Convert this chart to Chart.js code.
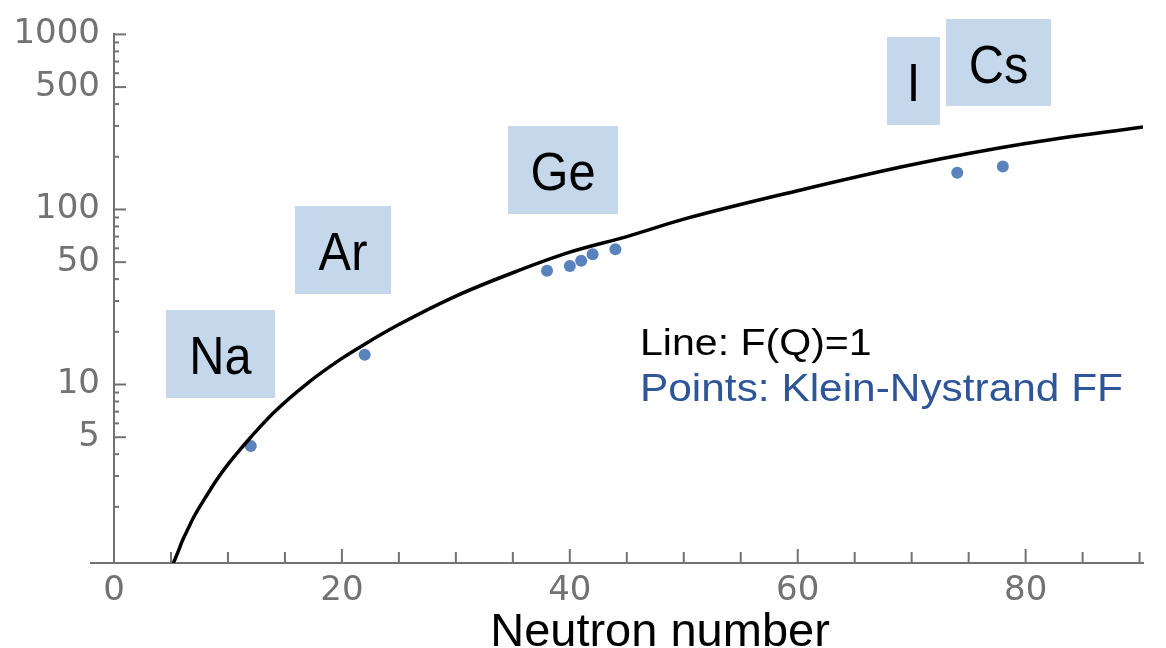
<!DOCTYPE html>
<html>
<head>
<meta charset="utf-8">
<title>Neutron number</title>
<script src="https://cdn.jsdelivr.net/npm/chart.js@4.4.1/dist/chart.umd.min.js"></script>
<style>
  body { margin: 0; background: #ffffff; }
  #grafico { display: block; }
</style>
</head>
<body>
<canvas id="grafico" width="1166" height="648"></canvas>
<script>
//*************  Data  **************************************/

// line F(Q)=1
const curveN     = [5.2, 5.6, 6, 6.5, 7, 8, 9, 10, 11, 12, 14, 17, 20, 22, 25, 30, 35, 40, 45, 50, 60, 70, 80, 90.3]
const curveValue = [0.95, 1.1, 1.28, 1.5, 1.75, 2.25, 2.85, 3.5, 4.2, 5.0, 6.9, 10.2, 14.1, 17, 22, 32, 43.5, 57, 70, 88, 128, 180, 238, 296]

// points: Klein-Nystrand form factor
const pointsN     = [12, 22, 38, 40, 41, 42, 44, 74, 78]
const pointsValue = [4.45, 14.8, 44.7, 47.6, 50.9, 55.5, 59.2, 162, 176]

// element labels
const elements = ["Na", "Ar", "Ge", "I", "Cs"]

// tick labels
const xTicks = [0, 20, 40, 60, 80]
const yTicks = [5, 10, 50, 100, 500, 1000]

// label boxes (pixels: left, top, width, height), same order as elements
const boxes = [
    [166, 310, 109, 88],
    [295, 206, 96, 88],
    [508, 126, 110, 88],
    [887, 37, 53, 88],
    [946, 19, 105, 87]
]

const axisColor = "#727272"
const tickFont = { family: "DejaVu Sans", size: 34 }


// text with a horizontal stretch (the original texts are a bit squeezed / widened)
function stretchedText(ctx, txt, x, y, font, color, sx, align){
    ctx.save()
    ctx.font = font
    ctx.fillStyle = color
    ctx.textAlign = align
    ctx.textBaseline = "alphabetic"
    ctx.translate(x, y)
    ctx.scale(sx, 1)
    ctx.fillText(txt, 0, 0)
    ctx.restore()
}


//*************  Extra drawing: inward ticks, label boxes, texts  ****************/
const decoration = {
    id: "decoration",
    afterDraw(chart){
        const ctx = chart.ctx
        const xs = chart.scales.x
        const ys = chart.scales.y
        const area = chart.chartArea

        ctx.save()
        ctx.strokeStyle = axisColor
        ctx.lineWidth = 2

        // small piece of x axis left of zero
        ctx.beginPath()
        ctx.moveTo(area.left - 24, area.bottom)
        ctx.lineTo(area.left, area.bottom)
        ctx.stroke()

        // x ticks, pointing up
        for(let v = 5; v <= xs.max; v += 5){
            let px = xs.getPixelForValue(v)
            let len = v % 20 === 0 ? 14 : 11
            ctx.beginPath()
            ctx.moveTo(px, area.bottom)
            ctx.lineTo(px, area.bottom - len)
            ctx.stroke()
        }

        // y ticks, pointing right (long at 5, 10, 50, 100...)
        for(let d = 1; d <= 1000; d *= 10){
            for(let m = 1; m <= 9; m++){
                let v = m * d
                if(v === 1) continue
                if(v < ys.min || v > ys.max) continue
                let py = ys.getPixelForValue(v)
                let len = (m === 1 || m === 5) ? 12 : 5
                ctx.beginPath()
                ctx.moveTo(area.left, py)
                ctx.lineTo(area.left + len, py)
                ctx.stroke()
            }
        }
        ctx.restore()

        // element boxes
        for(let i = 0; i < elements.length; i++){
            let b = boxes[i]
            ctx.fillStyle = "#c5d8eb"
            ctx.fillRect(b[0], b[1], b[2], b[3])
            stretchedText(ctx, elements[i], b[0] + b[2] / 2, b[1] + b[3] / 2 + 20,
                '53px "Liberation Sans"', "#000000", 0.92, "center")
        }

        // legend texts
        stretchedText(ctx, "Line: F(Q)=1", 640, 355, '37px "Liberation Sans"', "#000000", 1.11, "left")
        stretchedText(ctx, "Points: Klein-Nystrand FF", 640, 401, '39px "Liberation Sans"', "#2e5597", 1.087, "left")

        // axis title
        stretchedText(ctx, "Neutron number", 660, 646, '47px "Liberation Sans"', "#000000", 1, "center")
    }
}


//*************  Chart  ****************/
const curveData = curveN.map((n, i) => ({ x: n, y: curveValue[i] }))
const pointsData = pointsN.map((n, i) => ({ x: n, y: pointsValue[i] }))

new Chart(document.getElementById("grafico"), {
    type: "scatter",
    data: {
        datasets: [
            {
                label: "F(Q)=1",
                data: curveData,
                showLine: true,
                borderColor: "#000000",
                borderWidth: 3.5,
                pointRadius: 0,
                cubicInterpolationMode: "monotone",
                fill: false
            },
            {
                label: "Klein-Nystrand FF",
                data: pointsData,
                pointRadius: 6,
                pointBackgroundColor: "#5a82bd",
                pointBorderWidth: 0,
                borderColor: "#5a82bd"
            }
        ]
    },
    options: {
        responsive: false,
        animation: false,
        layout: { padding: { top: 28, right: 23, left: 0, bottom: 0 } },
        plugins: {
            legend: { display: false },
            tooltip: { enabled: false }
        },
        scales: {
            x: {
                type: "linear",
                min: 0,
                max: 90.3,
                afterBuildTicks: scale => { scale.ticks = xTicks.map(v => ({ value: v })) },
                afterFit: scale => { scale.height = 85 },
                grid: { display: false, drawTicks: false },
                border: { display: true, color: axisColor, width: 2 },
                ticks: {
                    color: axisColor,
                    font: tickFont,
                    padding: 8,
                    maxRotation: 0,
                    callback: v => String(v)
                }
            },
            y: {
                type: "logarithmic",
                min: 0.956,
                max: 1000,
                afterBuildTicks: scale => { scale.ticks = yTicks.map(v => ({ value: v })) },
                afterFit: scale => { scale.width = 114 },
                grid: { display: false, drawTicks: false },
                border: { display: true, color: axisColor, width: 2 },
                ticks: {
                    color: axisColor,
                    font: tickFont,
                    padding: 14,
                    callback: v => String(v)
                }
            }
        }
    },
    plugins: [decoration]
})
</script>
</body>
</html>
